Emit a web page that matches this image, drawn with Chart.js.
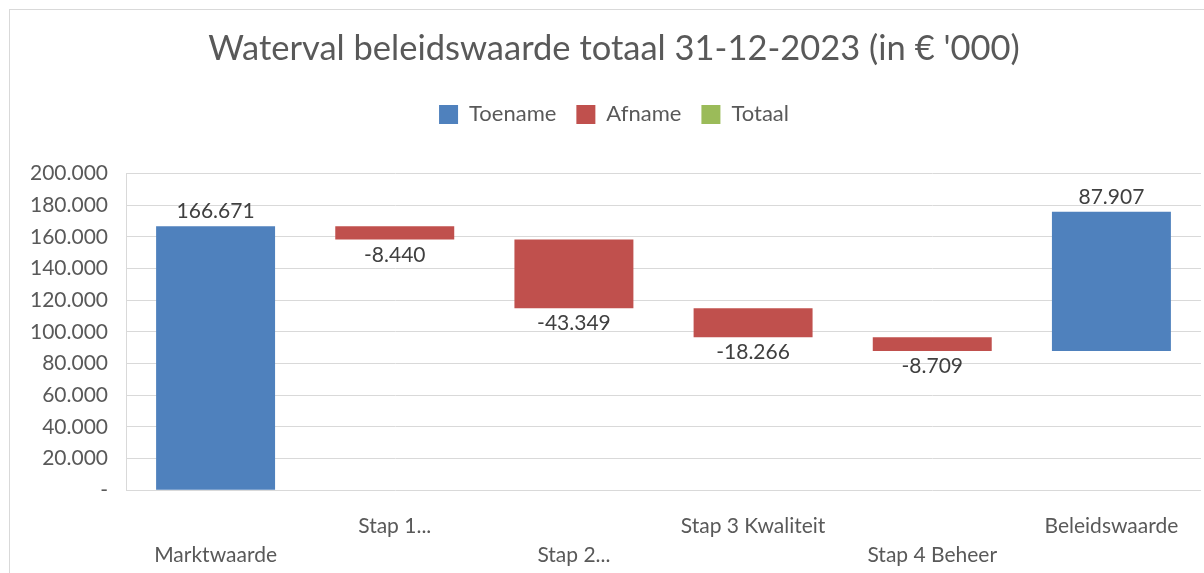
<!DOCTYPE html>
<html>
<head>
<meta charset="utf-8">
<script src="https://cdn.jsdelivr.net/npm/chart.js@4.4.1/dist/chart.umd.min.js"></script>
<style>
    html, body { margin: 0; padding: 0; background: #fff; overflow: hidden; }
    #frame {
        position: absolute; left: 9px; top: 9px;
        width: 1210px; height: 589px;
        border-left: 1px solid #d9d9d9; border-top: 1px solid #d9d9d9;
    }
    #frame canvas { display: block; }
</style>
</head>
<body>
<div id="frame"><canvas id="waterfallChart" width="1210" height="589"></canvas></div>
<script>
// Categories and values (in € '000)
const categories = ['Marktwaarde', 'Stap 1...', 'Stap 2...', 'Stap 3 Kwaliteit', 'Stap 4 Beheer', 'Beleidswaarde'];
// invisible base series of the Excel-style waterfall
const baseValues = [0, 158231, 114882, 96616, 87907, 87907];
const toename = [166671, null, null, null, null, 87907];
const afname = [null, -8440, -43349, -18266, -8709, null];
const totaal = [null, null, null, null, null, null];
const yTicks = { min: 0, max: 200000, step: 20000 };
// which x labels sit on the upper row
const upperRow = [false, true, false, true, false, true];

const textColor = '#595959';

function formatNl(v) {
    const s = Math.abs(Math.round(v)).toString().replace(/\B(?=(\d{3})+(?!\d))/g, '.');
    return (v < 0 ? '-' : '') + s;
}

// Data labels: above the bar for increases, below the bar for decreases
const valueLabels = {
    id: 'valueLabels',
    afterDatasetsDraw(chart) {
        const ctx = chart.ctx;
        ctx.save();
        ctx.font = "21px Lato, sans-serif";
        ctx.fillStyle = '#404040';
        ctx.textAlign = 'center';
        chart.data.datasets.forEach((ds, di) => {
            if (!ds.rawValues) return;
            const meta = chart.getDatasetMeta(di);
            meta.data.forEach((el, i) => {
                const v = ds.rawValues[i];
                if (v === null || v === undefined) return;
                const top = Math.min(el.y, el.base);
                const bottom = Math.max(el.y, el.base);
                if (v >= 0) {
                    ctx.textBaseline = 'bottom';
                    ctx.fillText(formatNl(v), el.x, top - 4);
                } else {
                    ctx.textBaseline = 'top';
                    ctx.fillText(formatNl(v), el.x, bottom + 5);
                }
            });
        });
        ctx.restore();
    }
};

// extra room between the legend and the plot
const legendGap = {
    id: 'legendGap',
    beforeInit(chart) {
        const origFit = chart.legend.fit;
        chart.legend.fit = function () {
            origFit.bind(chart.legend)();
            this.height += 38;
        };
    }
};

Chart.defaults.font.family = "Lato, sans-serif";
Chart.defaults.color = textColor;

new Chart(document.getElementById('waterfallChart'), {
    type: 'bar',
    data: {
        labels: categories,
        datasets: [
            {
                label: 'base',
                data: baseValues,
                backgroundColor: 'rgba(0,0,0,0)'
            },
            {
                label: 'Toename',
                data: toename,
                rawValues: toename,
                backgroundColor: '#4F81BD'
            },
            {
                label: 'Afname',
                data: afname.map(v => v === null ? null : Math.abs(v)),
                rawValues: afname,
                backgroundColor: '#C0504D'
            },
            {
                label: 'Totaal',
                data: totaal,
                backgroundColor: '#9BBB59'
            }
        ]
    },
    options: {
        responsive: false,
        animation: false,
        categoryPercentage: 0.664,
        barPercentage: 1,
        layout: { padding: { left: 17, right: 19, top: 0, bottom: 16 } },
        plugins: {
            title: {
                display: true,
                text: "Waterval beleidswaarde totaal 31-12-2023 (in € '000)",
                color: textColor,
                font: { size: 34.5, weight: 'normal' },
                padding: { top: 18, bottom: 14 }
            },
            legend: {
                position: 'top',
                labels: {
                    boxWidth: 19,
                    boxHeight: 19,
                    padding: 20,
                    color: textColor,
                    font: { size: 22 },
                    filter: item => item.text !== 'base'
                }
            },
            tooltip: { enabled: false }
        },
        scales: {
            x: {
                stacked: true,
                grid: { display: false },
                border: { display: false },
                ticks: {
                    autoSkip: false,
                    maxRotation: 0,
                    padding: 13,
                    font: { size: 21, lineHeight: 1.4 },
                    color: textColor,
                    callback: function (value, index) {
                        const label = categories[index];
                        return upperRow[index] ? [label, ''] : ['', label];
                    }
                }
            },
            y: {
                stacked: true,
                min: yTicks.min,
                max: yTicks.max,
                afterFit: scale => { scale.width = 99; },
                grid: { color: '#d9d9d9', lineWidth: 1, drawTicks: false },
                border: { display: true, color: '#d9d9d9' },
                ticks: {
                    stepSize: yTicks.step,
                    padding: 18,
                    font: { size: 21 },
                    color: textColor,
                    callback: v => v === 0 ? '-' : formatNl(v)
                }
            }
        }
    },
    plugins: [valueLabels, legendGap]
});
</script>
</body>
</html>
